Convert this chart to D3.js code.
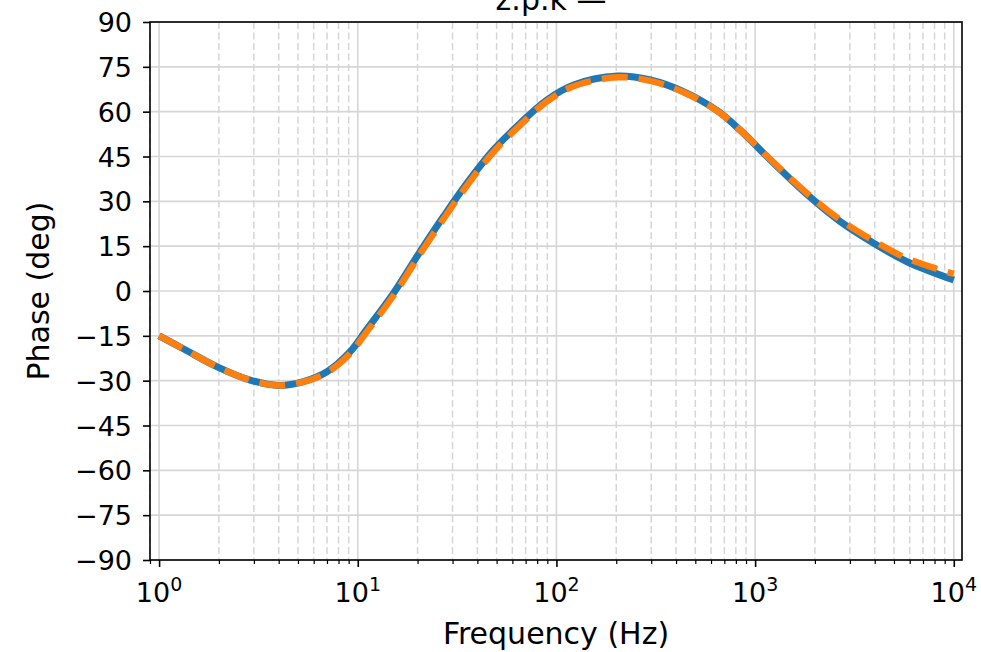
<!DOCTYPE html>
<html>
<head>
<meta charset="utf-8">
<script src="https://cdn.jsdelivr.net/npm/d3@7"></script>
<style>
  html, body { margin: 0; padding: 0; background: #fff; }
  svg { display: block; font-family: "DejaVu Sans", sans-serif; }
</style>
</head>
<body>
<svg id="chart" width="981" height="652"></svg>
<script>
// ---- data ----
const freqs = [1, 1.33, 1.95, 2.87, 4, 5.33, 7, 9.16, 11, 15.1, 20.6, 27, 35.4, 48.2, 65.7, 89.5, 122, 202, 297, 436, 642, 841, 1238, 1824, 2685, 3953, 5820, 10000];
const phaseExact = [-15, -19.4, -25.3, -29.8, -31.6, -30.3, -27, -20.3, -13.2, -0.8, 13.2, 24.9, 36, 47.2, 56.1, 63.9, 68.9, 71.9, 70.6, 66.7, 60.4, 53.8, 42.8, 32.3, 23.2, 16, 9.8, 3.7];
const phaseApprox = [-15, -19.4, -25.3, -29.8, -31.6, -30.4, -27.3, -20.9, -14.0, -1.6, 12.4, 24.1, 35.2, 46.5, 55.5, 63.4, 68.5, 71.5, 70.3, 66.5, 60.3, 53.8, 43.0, 32.7, 23.8, 16.8, 10.9, 5.7];
const yTicks = [-90, -75, -60, -45, -30, -15, 0, 15, 30, 45, 60, 75, 90];
const xMajor = [1, 10, 100, 1000, 10000];
const xExp = ["0", "1", "2", "3", "4"];
const titleText = "z.p.k \u2014";
const xLabel = "Frequency (Hz)";
const yLabel = "Phase (deg)";

// ---- layout ----
const L = 150, R = 962, T = 22, B = 560;
const svg = d3.select("#chart");
const x = d3.scaleLog().domain([0.9, 11000]).range([L, R]);
const y = d3.scaleLinear().domain([-90, 90]).range([B, T]);

// minor ticks
const xMinor = [];
for (let e = -1; e <= 4; e++) {
  for (let m = 2; m <= 9; m++) {
    const v = m * Math.pow(10, e);
    if (v >= 0.9 && v <= 11000) xMinor.push(v);
  }
}

const grid = svg.append("g");
grid.selectAll("line.minor").data(xMinor).join("line")
  .attr("x1", d => x(d)).attr("x2", d => x(d))
  .attr("y1", T).attr("y2", B)
  .attr("stroke", "#d6d6d6").attr("stroke-width", 1.5)
  .attr("stroke-dasharray", "7,3.5");
grid.selectAll("line.majx").data(xMajor).join("line")
  .attr("x1", d => x(d)).attr("x2", d => x(d))
  .attr("y1", T).attr("y2", B)
  .attr("stroke", "#d6d6d6").attr("stroke-width", 1.6);
grid.selectAll("line.majy").data(yTicks).join("line")
  .attr("x1", L).attr("x2", R)
  .attr("y1", d => y(d)).attr("y2", d => y(d))
  .attr("stroke", "#d6d6d6").attr("stroke-width", 1.6);

// clip
svg.append("clipPath").attr("id", "clip").append("rect")
  .attr("x", L).attr("y", T).attr("width", R - L).attr("height", B - T);

const line = d3.line().x(d => x(d[0])).y(d => y(d[1])).curve(d3.curveCatmullRom.alpha(0.5));
const plot = svg.append("g").attr("clip-path", "url(#clip)");
plot.append("path")
  .attr("d", line(freqs.map((f, i) => [f, phaseExact[i]])))
  .attr("fill", "none").attr("stroke", "#1f77b4").attr("stroke-width", 7)
  .attr("stroke-linejoin", "round");
plot.append("path")
  .attr("d", line(freqs.map((f, i) => [f, phaseApprox[i]])))
  .attr("fill", "none").attr("stroke", "#ff7f0e").attr("stroke-width", 6.5)
  .attr("stroke-dasharray", "26,11");

// axes
const xAxis = d3.axisBottom(x).tickValues(xMajor).tickSize(7).tickFormat("");
const xAxisMinor = d3.axisBottom(x).tickValues(xMinor).tickSize(4).tickFormat("");
const yAxis = d3.axisLeft(y).tickValues(yTicks).tickSize(7).tickFormat("");

function styleAxis(g, w) {
  g.select(".domain").remove();
  g.selectAll(".tick line").attr("stroke", "#000").attr("stroke-width", w);
}
svg.append("g").attr("transform", `translate(0,${B})`).call(xAxisMinor).call(g => styleAxis(g, 1.2));
svg.append("g").attr("transform", `translate(0,${B})`).call(xAxis).call(g => styleAxis(g, 1.6));
svg.append("g").attr("transform", `translate(${L},0)`).call(yAxis).call(g => styleAxis(g, 1.6));

// tick labels
svg.append("g").selectAll("text").data(yTicks).join("text")
  .attr("x", 132).attr("y", d => y(d) + 10)
  .attr("text-anchor", "end").attr("font-size", 27).attr("fill", "#000")
  .text(d => (d < 0 ? "\u2212" + Math.abs(d) : String(d)));

const xl = svg.append("g").selectAll("text").data(xMajor).join("text")
  .attr("x", d => x(d)).attr("y", 602)
  .attr("text-anchor", "middle").attr("font-size", 27).attr("fill", "#000");
xl.append("tspan").text("10");
xl.append("tspan").attr("dy", -11).attr("font-size", 19).text((d, i) => xExp[i]);

// spines
svg.append("rect").attr("x", L).attr("y", T).attr("width", R - L).attr("height", B - T)
  .attr("fill", "none").attr("stroke", "#000").attr("stroke-width", 1.6);

// labels
svg.append("text").attr("x", (L + R) / 2).attr("y", 644)
  .attr("text-anchor", "middle").attr("font-size", 30).text(xLabel);
svg.append("text").attr("transform", `translate(49,${(T + B) / 2}) rotate(-90)`)
  .attr("text-anchor", "middle").attr("font-size", 30).text(yLabel);
svg.append("text").attr("x", (L + R) / 2 - 5).attr("y", 10)
  .attr("text-anchor", "middle").attr("font-size", 30).text(titleText);
</script>
</body>
</html>
